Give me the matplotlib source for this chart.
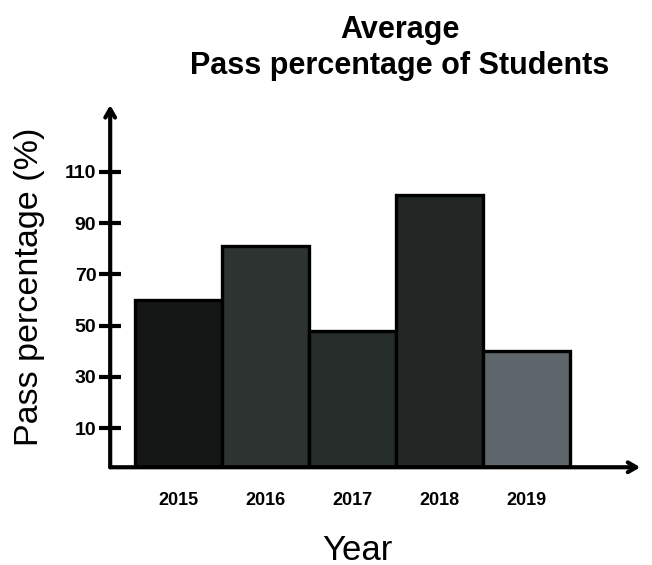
import matplotlib
matplotlib.use('Agg')
import matplotlib.pyplot as plt

# Data
years = ['2015', '2016', '2017', '2018', '2019']
pass_pct = [60, 81, 48, 101, 40]
bar_colors = ['#151716', '#2c3331', '#262c2a', '#222726', '#5f666b']
y_ticks = [10, 30, 50, 70, 90, 110]

plt.rcParams['font.family'] = ['Liberation Sans', 'DejaVu Sans']

fig = plt.figure(figsize=(6.52, 5.65), dpi=100)
ax = fig.add_axes([0.169, 0.173, 0.813, 0.641])

y_bottom = -5.2
x = list(range(len(years)))
# bars in the original sit on the drawn axis line
ax.bar(x, [v - y_bottom for v in pass_pct], bottom=y_bottom, width=1.0, color=bar_colors,
       edgecolor='black', linewidth=2.4, zorder=2)

ax.set_xlim(-0.79, 5.31)
ax.set_ylim(y_bottom, 136)

# Axes drawn as arrows
for s in ax.spines.values():
    s.set_visible(False)
ax.annotate('', xy=(0, 1.0), xytext=(0, 0), xycoords='axes fraction',
            arrowprops=dict(arrowstyle='->,head_length=0.6,head_width=0.35', lw=3, color='black',
                            shrinkA=0, shrinkB=0), annotation_clip=False, zorder=3)
ax.annotate('', xy=(1.0, 0), xytext=(0, 0), xycoords='axes fraction',
            arrowprops=dict(arrowstyle='->,head_length=0.6,head_width=0.35', lw=3, color='black',
                            shrinkA=0, shrinkB=0), annotation_clip=False, zorder=3)

ax.set_yticks(y_ticks)
ax.set_yticklabels([str(v) for v in y_ticks], fontsize=14, fontweight='bold')
ax.tick_params(axis='y', direction='inout', length=16, width=3, pad=2)

ax.set_xticks(x)
ax.set_xticklabels(years, fontsize=13, fontweight='bold')
ax.tick_params(axis='x', length=0, pad=18)

fig.text(0.613, 1 - 30 / 565, 'Average', ha='center', va='center', fontsize=22, fontweight='bold')
fig.text(0.613, 1 - 66 / 565, 'Pass percentage of Students', ha='center', va='center',
         fontsize=22, fontweight='bold')
fig.text(30 / 652, 1 - 287 / 565, 'Pass percentage (%)', rotation=90, ha='center', va='center',
         fontsize=24.5)
fig.text(357 / 652, 1 - 550 / 565, 'Year', ha='center', va='center', fontsize=25)

fig.savefig('out.png', dpi=100)
